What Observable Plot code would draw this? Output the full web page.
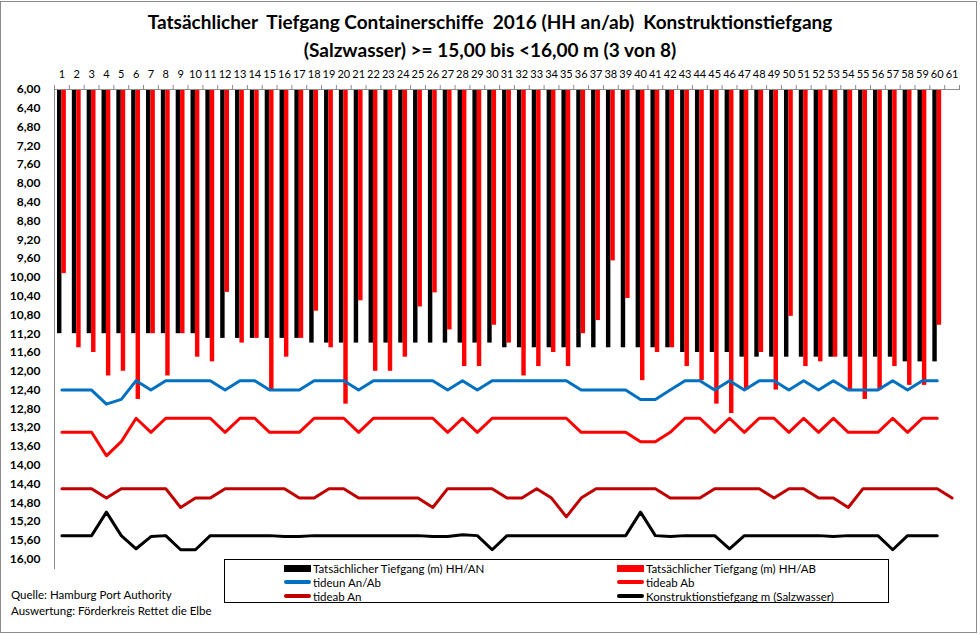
<!DOCTYPE html>
<html><head><meta charset="utf-8">
<script src="https://cdn.jsdelivr.net/npm/d3@7"></script>
<script src="https://cdn.jsdelivr.net/npm/@observablehq/plot@0.6"></script>
<style>
body{margin:0;background:#fff;font-family:Lato,"Open Sans",sans-serif;}
#wrap{position:relative;width:980px;height:634px;overflow:hidden;background:#fff;}
#border{position:absolute;left:0;top:1px;width:977px;height:632px;border:1px solid #8c8c8c;box-sizing:border-box;}
.title{position:absolute;left:0;width:980px;text-align:center;font-weight:bold;font-size:19px;line-height:23px;color:#000;white-space:nowrap;}
#legend{position:absolute;left:224px;top:559px;width:665px;height:44px;border:1px solid #000;box-sizing:border-box;font-size:11.5px;}
.item{position:absolute;display:flex;align-items:center;height:14px;white-space:nowrap;}
.sw{display:inline-block;width:27px;margin-right:2px;}
.src{position:absolute;left:11px;font-size:11.5px;color:#000;white-space:nowrap;}
#chart{position:absolute;left:0;top:0;}
</style></head>
<body>
<div id="wrap">
  <div id="border"></div>
  <div class="title" style="top:10px;">Tatsächlicher&nbsp; Tiefgang Containerschiffe&nbsp; 2016 (HH an/ab)&nbsp; Konstruktionstiefgang</div>
  <div class="title" style="top:38px;">(Salzwasser) &gt;= 15,00 bis &lt;16,00 m (3 von 8)</div>
  <div id="chart"></div>
  <div id="legend"></div>
  <div class="src" style="top:588px;">Quelle: Hamburg Port Authority</div>
  <div class="src" style="top:604px;">Auswertung: Förderkreis Rettet die Elbe</div>
</div>
<script>
const categories = [1,2,3,4,5,6,7,8,9,10,11,12,13,14,15,16,17,18,19,20,21,22,23,24,25,26,27,28,29,30,31,32,33,34,35,36,37,38,39,40,41,42,43,44,45,46,47,48,49,50,51,52,53,54,55,56,57,58,59,60,61];
const yTicks = [6.0,6.4,6.8,7.2,7.6,8.0,8.4,8.8,9.2,9.6,10.0,10.4,10.8,11.2,11.6,12.0,12.4,12.8,13.2,13.6,14.0,14.4,14.8,15.2,15.6,16.0];

// Tatsächlicher Tiefgang (m) HH/AN (black bars)
const tiefgangAN = [11.2,11.2,11.2,11.2,11.2,11.2,11.2,11.2,11.2,11.2,
  11.3,11.3,11.3,11.3,11.3,11.3,11.3,11.4,11.4,11.4,
  11.4,11.4,11.4,11.4,11.4,11.4,11.4,11.4,11.4,11.4,
  11.5,11.5,11.5,11.5,11.5,11.5,11.5,11.5,11.5,11.5,
  11.5,11.5,11.6,11.6,11.6,11.6,11.7,11.7,11.7,11.7,
  11.7,11.7,11.7,11.7,11.7,11.7,11.7,11.8,11.8,11.8];
// Tatsächlicher Tiefgang (m) HH/AB (red bars)
const tiefgangAB = [9.92,11.5,11.6,12.1,12.0,12.6,11.2,12.1,11.2,11.7,
  11.8,10.32,11.4,11.3,12.4,11.7,11.3,10.72,11.5,12.7,
  10.5,12.0,12.0,11.7,10.63,10.33,11.12,11.9,11.9,11.02,
  11.4,12.1,11.9,11.6,11.9,11.2,10.92,9.65,10.45,12.2,
  11.6,11.5,11.9,12.2,12.7,12.9,12.4,11.6,12.4,10.83,
  11.9,11.8,11.7,12.4,12.6,12.4,11.9,12.3,12.3,11.02];
// tideun An/Ab (blue)
const tideunAnAb = [12.4,12.4,12.4,12.7,12.6,12.2,12.4,12.2,12.2,12.2,
  12.2,12.4,12.2,12.2,12.4,12.4,12.4,12.2,12.2,12.2,
  12.4,12.2,12.2,12.2,12.2,12.2,12.4,12.2,12.4,12.2,
  12.2,12.2,12.2,12.2,12.2,12.4,12.4,12.4,12.4,12.6,
  12.6,12.4,12.2,12.2,12.4,12.2,12.4,12.2,12.2,12.4,
  12.2,12.4,12.2,12.4,12.4,12.4,12.2,12.4,12.2,12.2];
// tideab Ab (red line)
const tideabAb = [13.3,13.3,13.3,13.8,13.5,13.0,13.3,13.0,13.0,13.0,
  13.0,13.3,13.0,13.0,13.3,13.3,13.3,13.0,13.0,13.0,
  13.3,13.0,13.0,13.0,13.0,13.0,13.3,13.0,13.3,13.0,
  13.0,13.0,13.0,13.0,13.0,13.3,13.3,13.3,13.3,13.5,
  13.5,13.3,13.0,13.0,13.3,13.0,13.3,13.0,13.0,13.3,
  13.0,13.3,13.0,13.3,13.3,13.3,13.0,13.3,13.0,13.0];
// tideab An (dark red line)
const tideabAn = [14.5,14.5,14.5,14.7,14.5,14.5,14.5,14.5,14.9,14.7,
  14.7,14.5,14.5,14.5,14.5,14.5,14.7,14.7,14.5,14.5,
  14.7,14.7,14.7,14.7,14.7,14.9,14.5,14.5,14.5,14.5,
  14.7,14.7,14.5,14.7,15.1,14.7,14.5,14.5,14.5,14.5,
  14.5,14.7,14.7,14.7,14.5,14.5,14.5,14.5,14.7,14.5,
  14.5,14.7,14.7,14.9,14.5,14.5,14.5,14.5,14.5,14.5,14.7];
// Konstruktionstiefgang m (Salzwasser) (black line)
const konstruktion = [15.5,15.5,15.5,15.0,15.5,15.78,15.52,15.5,15.8,15.8,
  15.5,15.5,15.5,15.5,15.5,15.52,15.52,15.5,15.5,15.5,
  15.5,15.5,15.5,15.5,15.5,15.52,15.52,15.48,15.5,15.8,
  15.5,15.5,15.5,15.5,15.5,15.5,15.5,15.5,15.5,15.0,
  15.5,15.52,15.5,15.5,15.5,15.78,15.5,15.5,15.5,15.5,
  15.5,15.5,15.52,15.5,15.5,15.5,15.8,15.5,15.5,15.5];

const seriesNames = ["Tatsächlicher Tiefgang (m) HH/AN","Tatsächlicher Tiefgang (m) HH/AB","tideun An/Ab","tideab Ab","tideab An","Konstruktionstiefgang  m (Salzwasser)"];
const seriesColors = ["#000000","#ff0000","#0070c0","#ff0000","#c00000","#000000"];

const axisTop = yTicks[0];
const bars = tiefgangAN.map((v,i)=>({cat:categories[i], an:v, ab:tiefgangAB[i]}));
const toPts = arr => arr.map((v,i)=>({cat:categories[i], v}));
const lines = [
  {data: toPts(tideunAnAb), color: seriesColors[2]},
  {data: toPts(tideabAb), color: seriesColors[3]},
  {data: toPts(tideabAn), color: seriesColors[4]},
  {data: toPts(konstruktion), color: seriesColors[5]}
];

const W = 980, H = 634, mL = 54, mR = 21, mT = 89, mB = 66;
const bw = (W - mL - mR) / categories.length;
const fmt = d => d.toFixed(2).replace(".", ",");

const chart = Plot.plot({
  width: W, height: H,
  marginLeft: mL, marginRight: mR, marginTop: mT, marginBottom: mB,
  style: {fontFamily: "Lato, 'Open Sans', sans-serif", background: "transparent", overflow: "visible"},
  x: {type: "band", domain: categories, paddingInner: 0, paddingOuter: 0},
  y: {domain: [axisTop, 16.2], reverse: true},
  marks: [
    Plot.barY(bars, {x: "cat", y1: axisTop, y2: "an", fill: seriesColors[0], insetLeft: 3, insetRight: 7.4}),
    Plot.barY(bars, {x: "cat", y1: axisTop, y2: "ab", fill: seriesColors[1], insetLeft: 7.4, insetRight: 3}),
    ...lines.map(l => Plot.line(l.data, {x: "cat", y: "v", stroke: l.color, strokeWidth: 3, strokeLinejoin: "round"})),
    Plot.ruleY([axisTop], {stroke: "#8c8c8c"}),
    Plot.frame({anchor: "left", stroke: "#8c8c8c"}),
    Plot.axisX(categories, {anchor: "top", tickSize: 5, text: null, dx: -bw/2, stroke: "#8c8c8c", label: null}),
    Plot.axisX([categories[categories.length-1]], {anchor: "top", tickSize: 5, text: null, dx: bw/2, stroke: "#8c8c8c", label: null}),
    Plot.axisX(categories, {anchor: "top", tickSize: 0, tickPadding: 12, fontSize: 11, label: null}),
    Plot.axisY(yTicks, {anchor: "left", tickSize: 0, tickPadding: 14, tickFormat: fmt, fontSize: 12, fontWeight: "bold", label: null})
  ]
});
document.getElementById("chart").appendChild(chart);

// Legend
const legend = document.getElementById("legend");
const pos = [
  {left: 59, top: 1, kind: "bar"}, {left: 392, top: 1, kind: "bar"},
  {left: 59, top: 15, kind: "line"}, {left: 392, top: 15, kind: "line"},
  {left: 59, top: 29, kind: "line"}, {left: 392, top: 29, kind: "line"}
];
seriesNames.forEach((name, i) => {
  const p = pos[i];
  const it = document.createElement("div");
  it.className = "item";
  it.style.left = p.left + "px";
  it.style.top = p.top + "px";
  const sw = document.createElement("span");
  sw.className = "sw";
  sw.style.background = seriesColors[i];
  sw.style.height = p.kind === "bar" ? "7px" : "3.5px";
  if (p.kind === "line") sw.style.borderRadius = "2px";
  it.appendChild(sw);
  const t = document.createElement("span");
  t.textContent = name;
  it.appendChild(t);
  legend.appendChild(it);
});
</script>
</body></html>
